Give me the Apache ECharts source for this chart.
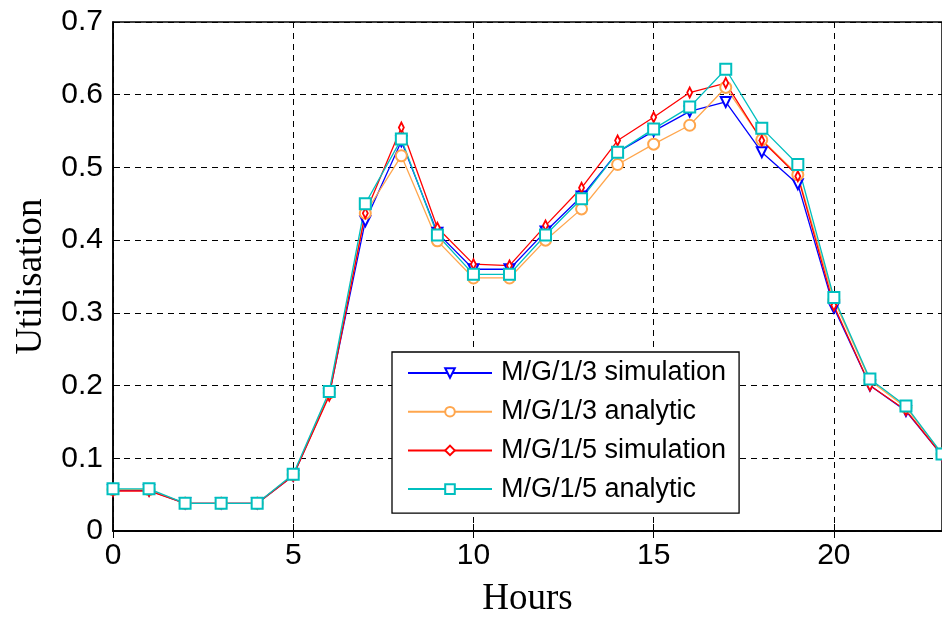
<!DOCTYPE html>
<html>
<head>
<meta charset="utf-8">
<script src="https://cdn.jsdelivr.net/npm/echarts@6/dist/echarts.min.js"></script>
<style>html,body{margin:0;padding:0;background:#fff}#c{width:942px;height:617px}</style>
</head>
<body>
<div id="c"></div>
<script>
const hours = [0,1,2,3,4,5,6,7,8,9,10,11,12,13,14,15,16,17,18,19,20,21,22,23];
const seriesNames = ['M/G/1/3 simulation','M/G/1/3 analytic','M/G/1/5 simulation','M/G/1/5 analytic'];
const mg13Sim = [0.056,0.056,0.038,0.038,0.038,0.076,0.188,0.426,0.536,0.410,0.360,0.360,0.412,0.460,0.521,0.550,0.577,0.590,0.521,0.477,0.307,0.200,0.165,0.104];
const mg13Ana = [0.057,0.057,0.038,0.038,0.038,0.077,0.190,0.437,0.516,0.399,0.348,0.348,0.400,0.443,0.504,0.532,0.558,0.610,0.538,0.490,0.318,0.207,0.170,0.106];
const mg15Sim = [0.055,0.055,0.038,0.038,0.038,0.076,0.186,0.437,0.555,0.417,0.367,0.365,0.420,0.472,0.537,0.569,0.603,0.616,0.537,0.488,0.310,0.200,0.166,0.104];
const mg15Ana = [0.058,0.058,0.038,0.038,0.038,0.078,0.192,0.450,0.539,0.407,0.353,0.353,0.407,0.457,0.521,0.553,0.583,0.635,0.554,0.504,0.321,0.209,0.172,0.106];
const xTicks = [0,5,10,15,20];
const yTicks = [0,0.1,0.2,0.3,0.4,0.5,0.6,0.7];

const pair = arr => hours.map((h,i)=>[h,arr[i]]);
const chart = echarts.init(document.getElementById('c'), null, {renderer:'canvas'});
const labelFont = {fontFamily:'Liberation Sans, Arial, sans-serif', fontSize:30, color:'#000'};
const nameFont = {fontFamily:'Liberation Serif, Times New Roman, serif', fontSize:37, color:'#000'};
function mk(name, data, color, symbol, size, rotate){
  return {name, type:'line', data:pair(data), symbol, symbolSize:size, symbolRotate:rotate||0,
    showAllSymbol:true, clip:false, animation:false,
    lineStyle:{color, width:1.3}, itemStyle:{color, borderColor:color, borderWidth:1.2}};
}
chart.setOption({
  animation:false,
  backgroundColor:'#fff',
  grid:{left:113, right:0, top:22, bottom:86, show:true, borderColor:'#000', borderWidth:1.5, backgroundColor:'transparent', containLabel:false, outerBoundsMode:'none'},
  xAxis:[{type:'value', min:0, max:23, interval:5,
    name:'Hours', nameLocation:'middle', nameGap:50, nameTextStyle:nameFont,
    axisLine:{show:true, onZero:false, lineStyle:{color:'#000', width:1.5}},
    axisTick:{show:true, inside:true, length:7, lineStyle:{color:'#000'}},
    axisLabel:{...labelFont, margin:10, showMaxLabel:false, formatter:v=>xTicks.includes(v)?String(v):''},
    splitLine:{show:true, lineStyle:{color:'#000', type:[6,5], width:1}}},
   {type:'value', position:'top', min:0, max:23, interval:5,
    axisLine:{show:true, lineStyle:{color:'#000', width:1.5}},
    axisTick:{show:true, inside:true, length:7, lineStyle:{color:'#000'}},
    axisLabel:{show:false}, splitLine:{show:false}}],
  yAxis:{type:'value', min:0, max:0.7, interval:0.1,
    name:'Utilisation', nameLocation:'middle', nameGap:63, nameTextStyle:nameFont,
    axisLine:{show:true, lineStyle:{color:'#000', width:1.5}},
    axisTick:{show:true, inside:true, length:7, lineStyle:{color:'#000'}},
    axisLabel:{...labelFont, margin:10, formatter:v=>{const t=yTicks.find(y=>Math.abs(y-v)<1e-9);return t===undefined?'':String(Math.round(t*10)/10);}},
    splitLine:{show:true, lineStyle:{color:'#000', type:[6,5], width:1}}},
  legend:{orient:'vertical', left:392, top:352, data:seriesNames,
    backgroundColor:'#fff', borderColor:'#000', borderWidth:1.3, borderRadius:0,
    padding:[6,13,9,15], itemGap:8.7, itemWidth:84, itemHeight:12,
    textStyle:{fontFamily:'Liberation Sans, Arial, sans-serif', fontSize:27, color:'#000', lineHeight:30, padding:[0,0,0,4]}},
  series:[
    mk(seriesNames[0], mg13Sim, '#0000ff', 'emptyTriangle', 10, 180),
    mk(seriesNames[1], mg13Ana, '#ffa64d', 'emptyCircle', 11),
    mk(seriesNames[2], mg15Sim, '#ff0000', 'emptyDiamond', [5,10]),
    mk(seriesNames[3], mg15Ana, '#00bfbf', 'emptyRect', 11)
  ]
});
</script>
</body>
</html>
